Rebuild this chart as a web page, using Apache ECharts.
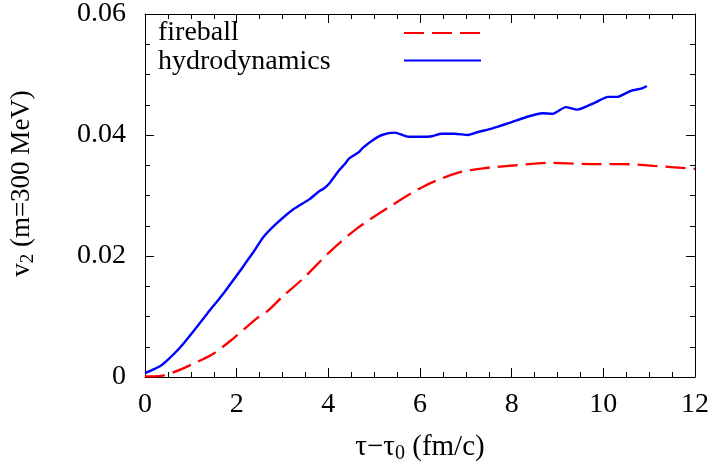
<!DOCTYPE html>
<html>
<head>
<meta charset="utf-8">
<script src="https://cdn.jsdelivr.net/npm/echarts@6/dist/echarts.min.js"></script>
<style>html,body{margin:0;padding:0;background:#fff}#c{width:715px;height:469px}</style>
</head>
<body>
<div id="c"></div>
<script>
var xTicks = [0, 2, 4, 6, 8, 10, 12];
var yTicks = [0, 0.02, 0.04, 0.06];
var seriesNames = ['fireball', 'hydrodynamics'];

var hydroX = [0, 0.2, 0.35, 0.49, 0.63, 0.78, 1.07, 1.36, 1.72, 2.08, 2.21, 2.37, 2.58, 2.86, 3.23, 3.59, 3.8, 3.91, 4.02, 4.24, 4.37, 4.45, 4.67, 4.74, 4.96, 5.17, 5.45, 5.75, 6.04, 6.26, 6.47, 6.75, 7.05, 7.27, 7.48, 7.7, 7.95, 8.38, 8.67, 8.89, 9.18, 9.43, 9.83, 10.1, 10.3, 10.6, 10.84, 10.95];
var hydroY = [0.00065, 0.0013, 0.0019, 0.0028, 0.0038, 0.005, 0.0077, 0.0105, 0.0139, 0.0176, 0.019, 0.0207, 0.0231, 0.0253, 0.0277, 0.0294, 0.0307, 0.0312, 0.032, 0.0342, 0.0353, 0.0361, 0.0372, 0.0378, 0.0391, 0.04, 0.0404, 0.0397, 0.0397, 0.0398, 0.0402, 0.0402, 0.04, 0.0405, 0.0409, 0.0414, 0.042, 0.0431, 0.0436, 0.0435, 0.0446, 0.0442, 0.0454, 0.0463, 0.0463, 0.0473, 0.0477, 0.0481];

var fireX = [0, 0.35, 0.63, 1.0, 1.5, 1.93, 2.44, 2.69, 3.0, 3.44, 4.02, 4.6, 5.35, 6.08, 6.8, 7.38, 8.1, 8.8, 9.68, 10.4, 11.1, 11.84, 12];
var fireY = [0.0001, 0.0002, 0.0008, 0.002, 0.0039, 0.0064, 0.0097, 0.011, 0.0133, 0.0162, 0.0206, 0.0244, 0.0282, 0.0315, 0.0337, 0.0345, 0.035, 0.0354, 0.0352, 0.0352, 0.0349, 0.0345, 0.0344];

function zip(a, b) { return a.map(function (v, i) { return [v, b[i]]; }); }

var FONT = 'Liberation Serif';
var chart = echarts.init(document.getElementById('c'), null, {renderer: 'canvas'});

var axisCommon = {
  axisLine: {show: true, onZero: false, lineStyle: {color: '#000', width: 1}},
  axisTick: {show: true, inside: true, length: 9, lineStyle: {color: '#000', width: 1}},
  minorTick: {show: true, splitNumber: 4, length: 5, lineStyle: {color: '#000', width: 1}},
  splitLine: {show: false}
};

var option = {
  animation: false,
  backgroundColor: '#fff',
  grid: {left: 141, right: 20, top: 13, bottom: 90, containLabel: false},
  xAxis: [
    Object.assign({}, axisCommon, {
      type: 'value', min: 0, max: 12, interval: 2, position: 'bottom',
      axisLabel: {color: '#000', fontFamily: FONT, fontSize: 28, margin: 14},
      name: '{t|τ−τ}{s|0}{t| (fm/c)}', nameLocation: 'middle', nameGap: 53,
      nameTextStyle: {rich: {
        t: {fontFamily: FONT, fontSize: 29, color: '#000'},
        s: {fontFamily: FONT, fontSize: 20, color: '#000', padding: [14, 0, 0, 0]}
      }}
    }),
    Object.assign({}, axisCommon, {
      type: 'value', min: 0, max: 12, interval: 2, position: 'top',
      axisLabel: {show: false}
    })
  ],
  yAxis: [
    Object.assign({}, axisCommon, {
      type: 'value', min: 0, max: 0.06, interval: 0.02, position: 'left',
      axisLabel: {color: '#000', fontFamily: FONT, fontSize: 28, margin: 19,
        formatter: function (v) { return v === 0 ? '0' : v.toFixed(2); }},
      name: '{t|v}{s|2}{t| (m=300 MeV)}', nameLocation: 'middle', nameGap: 107, nameRotate: 90,
      nameTextStyle: {padding: [0, 0, 0, 24], rich: {
        t: {fontFamily: FONT, fontSize: 27, color: '#000'},
        s: {fontFamily: FONT, fontSize: 19, color: '#000', padding: [14, 0, 0, 0]}
      }}
    }),
    Object.assign({}, axisCommon, {
      type: 'value', min: 0, max: 0.06, interval: 0.02, position: 'right',
      axisLabel: {show: false}
    })
  ],
  legend: {
    show: true, orient: 'vertical', left: 403, top: 26, itemGap: 15, padding: 0,
    itemWidth: 77, itemHeight: 14,
    itemStyle: {opacity: 0},
    textStyle: {fontSize: 8},
    formatter: function () { return ''; },
    data: seriesNames
  },
  graphic: [
    {type: 'text', left: 158, top: 19, style: {text: seriesNames[0], fontFamily: FONT, fontSize: 28, fill: '#000'}},
    {type: 'text', left: 158, top: 47.5, style: {text: seriesNames[1], fontFamily: FONT, fontSize: 28, fill: '#000'}}
  ],
  series: [
    {
      name: seriesNames[0], type: 'line', xAxisIndex: 0, yAxisIndex: 0,
      data: zip(fireX, fireY), smooth: 0.3, symbol: 'none', showSymbol: false,
      lineStyle: {color: '#ff0000', width: 2.3, type: [20, 8]},
      itemStyle: {color: '#ff0000'}
    },
    {
      name: seriesNames[1], type: 'line', xAxisIndex: 0, yAxisIndex: 0,
      data: zip(hydroX, hydroY), smooth: 0.2, symbol: 'none', showSymbol: false,
      lineStyle: {color: '#0000ff', width: 2.4},
      itemStyle: {color: '#0000ff'}
    }
  ]
};
chart.setOption(option);
</script>
</body>
</html>
